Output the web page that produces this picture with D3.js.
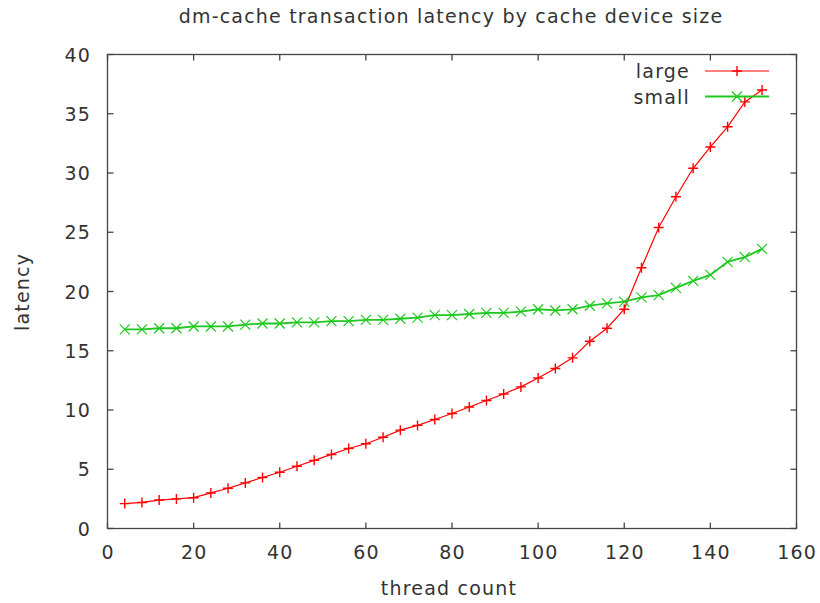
<!DOCTYPE html>
<html>
<head>
<meta charset="utf-8">
<script src="https://cdn.jsdelivr.net/npm/d3@7"></script>
<style>
  body { margin: 0; background: #fff; }
  text { font-family: "DejaVu Sans", sans-serif; fill: #333; }
</style>
</head>
<body>
<script>
// thread counts sampled every 4 threads
const threads = d3.range(4, 153, 4);
const largeLatency = [2.1, 2.2, 2.4, 2.5, 2.6, 3.0, 3.4, 3.85, 4.3, 4.75, 5.25, 5.75, 6.25, 6.75, 7.15,
  7.7, 8.3, 8.7, 9.2, 9.7, 10.25, 10.8, 11.35, 11.95, 12.7, 13.5, 14.4, 15.8, 16.9, 18.5,
  22.0, 25.4, 28.0, 30.4, 32.2, 33.9, 36.0, 37.0];
const smallLatency = [16.8, 16.8, 16.9, 16.9, 17.05, 17.05, 17.05, 17.2, 17.3, 17.3, 17.4, 17.4, 17.5, 17.5, 17.6,
  17.6, 17.7, 17.8, 18.0, 18.0, 18.1, 18.2, 18.2, 18.3, 18.5, 18.4, 18.5, 18.8, 19.0, 19.15,
  19.5, 19.7, 20.3, 20.9, 21.4, 22.5, 22.9, 23.6];
const xTicks = [0, 20, 40, 60, 80, 100, 120, 140, 160];
const yTicks = [0, 5, 10, 15, 20, 25, 30, 35, 40];
const seriesNames = ["large", "small"];

const W = 820, H = 603;
const plotLeft = 107.5, plotRight = 796.5, plotTop = 54.5, plotBottom = 528.5;

const svg = d3.select("body").append("svg").attr("width", W).attr("height", H);

const x = d3.scaleLinear().domain([0, 160]).range([plotLeft, plotRight]);
const y = d3.scaleLinear().domain([0, 40]).range([plotBottom, plotTop]);

const axisColor = "#444";
const tickLen = 6;

// frame
svg.append("rect").attr("x", plotLeft).attr("y", plotTop)
  .attr("width", plotRight - plotLeft).attr("height", plotBottom - plotTop)
  .attr("fill", "none").attr("stroke", axisColor).attr("stroke-width", 1.3);

// inward ticks on all four sides
const tickG = svg.append("g").attr("stroke", axisColor).attr("stroke-width", 1.3);
xTicks.forEach(t => {
  tickG.append("line").attr("x1", x(t)).attr("x2", x(t)).attr("y1", plotBottom).attr("y2", plotBottom - tickLen);
  tickG.append("line").attr("x1", x(t)).attr("x2", x(t)).attr("y1", plotTop).attr("y2", plotTop + tickLen);
});
yTicks.forEach(t => {
  tickG.append("line").attr("x1", plotLeft).attr("x2", plotLeft + tickLen).attr("y1", y(t)).attr("y2", y(t));
  tickG.append("line").attr("x1", plotRight).attr("x2", plotRight - tickLen).attr("y1", y(t)).attr("y2", y(t));
});

// tick labels
svg.append("g").selectAll("text").data(xTicks).join("text")
  .attr("x", d => x(d) + 0.6).attr("y", 559).attr("letter-spacing", 1.2)
  .attr("text-anchor", "middle").attr("font-size", 19).text(d => d);
svg.append("g").selectAll("text").data(yTicks).join("text")
  .attr("x", 91).attr("y", d => y(d) + 7).attr("letter-spacing", 1.2)
  .attr("text-anchor", "end").attr("font-size", 19).text(d => d);

// titles
svg.append("text").attr("x", 451).attr("y", 23).attr("text-anchor", "middle")
  .attr("font-size", 19).attr("letter-spacing", 1.2)
  .text("dm-cache transaction latency by cache device size");
svg.append("text").attr("x", 449).attr("y", 595).attr("text-anchor", "middle")
  .attr("font-size", 19).attr("letter-spacing", 1.2).text("thread count");
svg.append("text").attr("transform", "translate(29,292) rotate(-90)")
  .attr("text-anchor", "middle").attr("font-size", 19).attr("letter-spacing", 1.2).text("latency");

const line = d3.line().x(d => x(d[0])).y(d => y(d[1]));

function plus(g, cx, cy, color) {
  g.append("path").attr("d", `M${cx - 5},${cy}H${cx + 5}M${cx},${cy - 5}V${cy + 5}`)
    .attr("stroke", color).attr("stroke-width", 1.4).attr("fill", "none");
}
function cross(g, cx, cy, color) {
  g.append("path").attr("d", `M${cx - 5},${cy - 5}L${cx + 5},${cy + 5}M${cx - 5},${cy + 5}L${cx + 5},${cy - 5}`)
    .attr("stroke", color).attr("stroke-width", 1.2).attr("fill", "none");
}

const series = [
  { name: seriesNames[0], values: largeLatency, color: "#ff0000", width: 1.2, marker: plus },
  { name: seriesNames[1], values: smallLatency, color: "#1ec81e", width: 1.8, marker: cross }
];

series.forEach((s, i) => {
  const pts = threads.map((t, k) => [t, s.values[k]]);
  const g = svg.append("g");
  g.append("path").attr("d", line(pts)).attr("fill", "none")
    .attr("stroke", s.color).attr("stroke-width", s.width);
  pts.forEach(p => s.marker(g, x(p[0]), y(p[1]), s.color));

  // legend entry
  const ly = 71 + i * 25.5;
  svg.append("text").attr("x", 690).attr("y", ly + 7).attr("text-anchor", "end")
    .attr("font-size", 19).attr("letter-spacing", 1.2).text(s.name);
  svg.append("line").attr("x1", 705).attr("x2", 769).attr("y1", ly).attr("y2", ly)
    .attr("stroke", s.color).attr("stroke-width", s.width);
  s.marker(svg, 737, ly, s.color);
});
</script>
</body>
</html>
